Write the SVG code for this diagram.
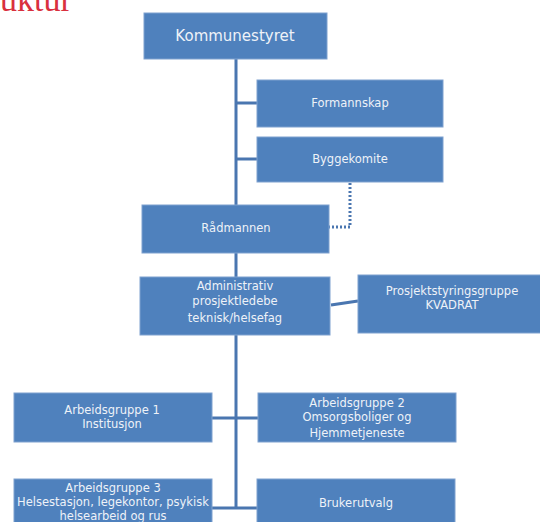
<svg xmlns="http://www.w3.org/2000/svg" width="540" height="522" viewBox="0 0 540 522">
<style>
.box{fill:#4f81bd;stroke:#7fa1cf;stroke-width:1}
.t{font-family:"DejaVu Sans","Liberation Sans",sans-serif;font-size:11.5px;fill:#eef2f8;text-anchor:middle}
.big{font-size:15px}
.c{stroke:#4a76b0;stroke-width:3;fill:none}
.d{stroke:#4a76b0;stroke-width:3;fill:none;stroke-dasharray:2 2}
</style>
<rect width="540" height="522" fill="#ffffff"/>
<text x="0" y="11" font-family="Liberation Serif,serif" font-size="34" fill="#d9303e">uktur</text>
<g id="connectors">
<line class="c" x1="236" y1="59" x2="236" y2="509"/>
<line class="c" x1="236" y1="103" x2="257" y2="103"/>
<line class="c" x1="236" y1="159" x2="257" y2="159"/>
<polyline class="d" points="350,183 350,227 329,227"/>
<line class="c" x1="331" y1="305" x2="358" y2="301"/>
<line class="c" x1="212" y1="418" x2="258" y2="418"/>
<line class="c" x1="212" y1="508" x2="257" y2="508"/>
</g>
<g id="kommunestyret"><rect class="box" x="144" y="13" width="183" height="46"/><text class="t big" x="235" y="41">Kommunestyret</text></g>
<g id="formannskap"><rect class="box" x="257" y="80" width="186" height="47"/><text class="t" x="350" y="107">Formannskap</text></g>
<g id="byggekomite"><rect class="box" x="257" y="137" width="186" height="45"/><text class="t" x="350" y="163">Byggekomite</text></g>
<g id="radmannen"><rect class="box" x="142" y="205" width="187" height="48"/><text class="t" x="236" y="232">Rådmannen</text></g>
<g id="administrativ"><rect class="box" x="140" y="277" width="190" height="58"/><text class="t" x="235" y="290">Administrativ</text><text class="t" x="235" y="305">prosjektledebe</text><text class="t" x="235" y="322">teknisk/helsefag</text></g>
<g id="prosjektstyringsgruppe"><rect class="box" x="358" y="275" width="184" height="58"/><text class="t" x="452" y="295">Prosjektstyringsgruppe</text><text class="t" x="452" y="309">KVADRAT</text></g>
<g id="arbeidsgruppe1"><rect class="box" x="14" y="393" width="198" height="49"/><text class="t" x="112" y="414">Arbeidsgruppe 1</text><text class="t" x="112" y="428">Institusjon</text></g>
<g id="arbeidsgruppe2"><rect class="box" x="258" y="393" width="198" height="49"/><text class="t" x="357" y="407">Arbeidsgruppe 2</text><text class="t" x="357" y="421">Omsorgsboliger og</text><text class="t" x="357" y="437">Hjemmetjeneste</text></g>
<g id="arbeidsgruppe3"><rect class="box" x="14" y="479" width="198" height="60"/><text class="t" x="113" y="492">Arbeidsgruppe 3</text><text class="t" x="113" y="506">Helsestasjon, legekontor, psykisk</text><text class="t" x="113" y="520">helsearbeid og rus</text></g>
<g id="brukerutvalg"><rect class="box" x="257" y="479" width="198" height="60"/><text class="t" x="356" y="507">Brukerutvalg</text></g>
</svg>
